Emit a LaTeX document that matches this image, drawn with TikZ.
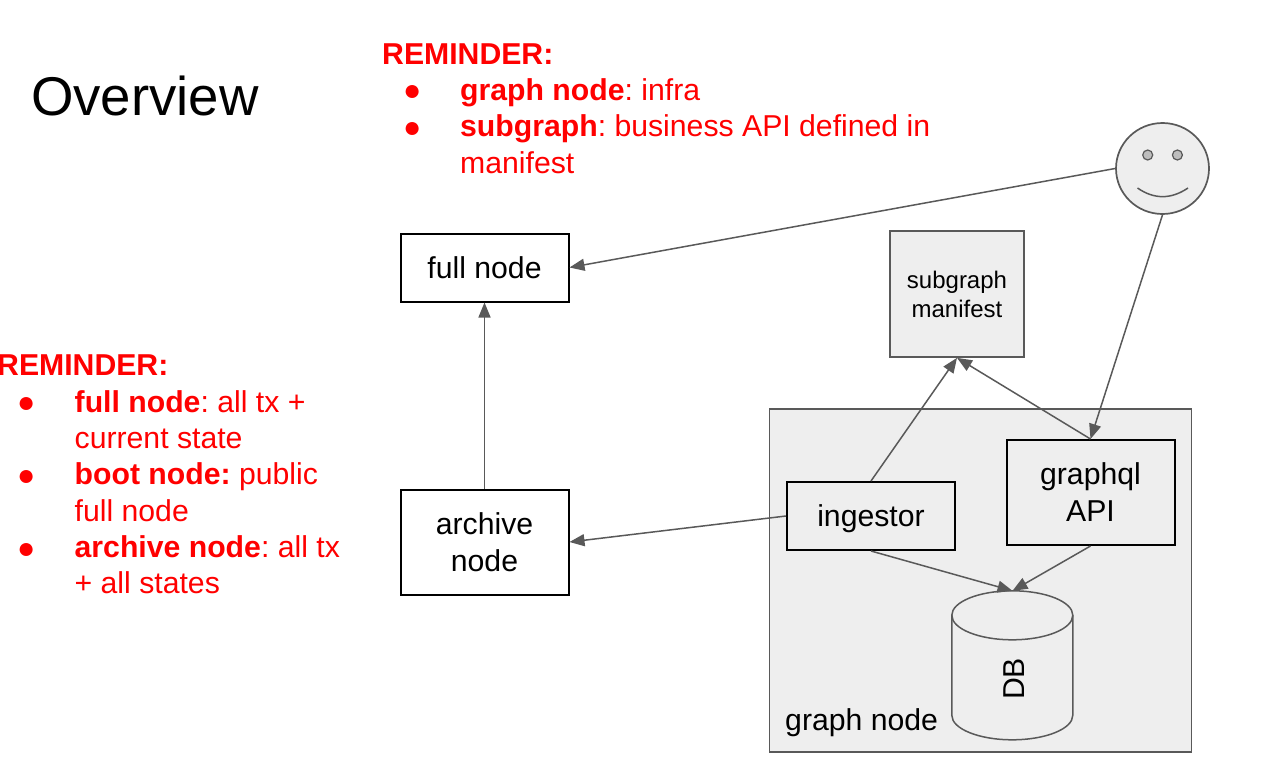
\documentclass[tikz,border=0pt]{standalone}
\usepackage{fontspec}
\setmainfont{Liberation Sans}
\usetikzlibrary{arrows.meta,shapes.geometric}
\definecolor{edgegray}{HTML}{595959}
\definecolor{panelgray}{HTML}{EEEEEE}
\definecolor{eyegray}{HTML}{BDBDBD}
\definecolor{remred}{HTML}{FF0000}
\newcommand{\fs}[2]{\fontsize{#1}{#2}\selectfont\frenchspacing}
\tikzset{
  x=1pt,y=-1pt,
  blackbox/.style={draw=black,line width=2pt,align=center,inner sep=0pt,font=\fs{30.2}{37}},
  graybox/.style={draw=edgegray,fill=panelgray,line width=1.7pt,align=center,inner sep=0pt},
  conn/.style={draw=edgegray,line width=1.5pt,-{Triangle[length=15pt,width=12pt]}},
  rem/.style={anchor=base west,inner sep=0pt,text=remred,font=\fs{30.2}{36}},
  plainline/.style={draw=edgegray,line width=1.5pt},
}
\begin{document}
\begin{tikzpicture}
\useasboundingbox (0,0) rectangle (1274,763);
\node[anchor=base west,inner sep=0pt,font=\fs{54.6}{60}] (title) at (31,115) {Overview};
% top reminder
\node[rem] (ra0) at (382,64) {\textbf{REMINDER:}};
\node[rem] (ra1b) at (403,100) {●};
\node[rem] (ra1) at (460,100) {\textbf{graph node}: infra};
\node[rem] (ra2b) at (403,137) {●};
\node[rem] (ra2) at (460,136) {\textbf{subgraph}: business API defined in};
\node[rem] (ra3) at (460,173) {manifest};
% left reminder
\node[rem] (rb0) at (-3,375) {\textbf{REMINDER:}};
\node[rem] (rb1b) at (16.8,412) {●};
\node[rem] (rb1) at (74.5,412) {\textbf{full node}: all tx +};
\node[rem] (rb2) at (74.5,448) {current state};
\node[rem] (rb3b) at (16.8,485) {●};
\node[rem] (rb3) at (74.5,484) {\textbf{boot node:} public};
\node[rem] (rb4) at (74.5,521) {full node};
\node[rem] (rb5b) at (16.8,558) {●};
\node[rem] (rb5) at (74.5,557) {\textbf{archive node}: all tx};
\node[rem] (rb6) at (74.5,593) {+ all states};
% panel
\node[graybox,minimum width=422pt,minimum height=343pt] (panel) at (980.5,580.5) {};
\node[anchor=base west,inner sep=0pt,font=\fs{30.2}{36}] (panellabel) at (785,730) {graph node};
% boxes
\node[blackbox,minimum width=168pt,minimum height=68pt] (full) at (484.5,267.5) {full node};
\node[blackbox,minimum width=168pt,minimum height=105pt] (archive) at (484.5,542) {archive\\node};
\node[blackbox,minimum width=168pt,minimum height=68pt] (ingestor) at (871,516) {\raisebox{0pt}[\height][0pt]{ingestor}};
\node[blackbox,minimum width=168pt,minimum height=105pt] (graphql) at (1090.5,492.5) {graphql\\API};
\node[graybox,minimum width=134pt,minimum height=126pt,font=\fs{24}{29}] (manifest) at (957,294) {subgraph\\manifest};
% face
\node[graybox,draw,shape=ellipse,minimum width=93pt,minimum height=91pt] (face) at (1162.5,168.5) {};
\node[draw=edgegray,fill=eyegray,line width=1.2pt,circle,minimum size=10pt,inner sep=0pt] (eyel) at (1147.7,155) {};
\node[draw=edgegray,fill=eyegray,line width=1.2pt,circle,minimum size=10pt,inner sep=0pt] (eyer) at (1177.4,155) {};
\coordinate (smileL) at (1137.5,188);
\coordinate (smileR) at (1188,188);
\draw[plainline] (smileL) .. controls (1154,199.5) and (1171,199.5) .. (smileR);
% database
\node[inner sep=0pt,minimum width=121pt,minimum height=149pt] (db) at (1012.5,665.5) {};
\draw[plainline,fill=panelgray] (db.north west)++(0,24.5) arc[start angle=180,end angle=360,x radius=60.5,y radius=24.5]
  -- ++(0,100) arc[start angle=0,end angle=180,x radius=60.5,y radius=24.5] -- cycle;
\draw[plainline] (db.north west)++(0,24.5) arc[start angle=180,end angle=0,x radius=60.5,y radius=24.5];
\node[rotate=90,inner sep=0pt,font=\fs{30.2}{36}] (dblabel) at (1014.5,679) {DB};
% connectors
\draw[conn] (face.west) -- (full.east);
\draw[conn] (face.south) -- (graphql.north);
\draw[conn] (archive.north) -- (full.south);
\draw[conn] (ingestor.west) -- (archive.east);
\draw[conn] (ingestor.north) -- (manifest.south);
\draw[conn] (graphql.north) -- (manifest.south);
\draw[conn] (ingestor.south) -- (db.north);
\draw[conn] (graphql.south) -- (db.north);
\end{tikzpicture}
\end{document}
